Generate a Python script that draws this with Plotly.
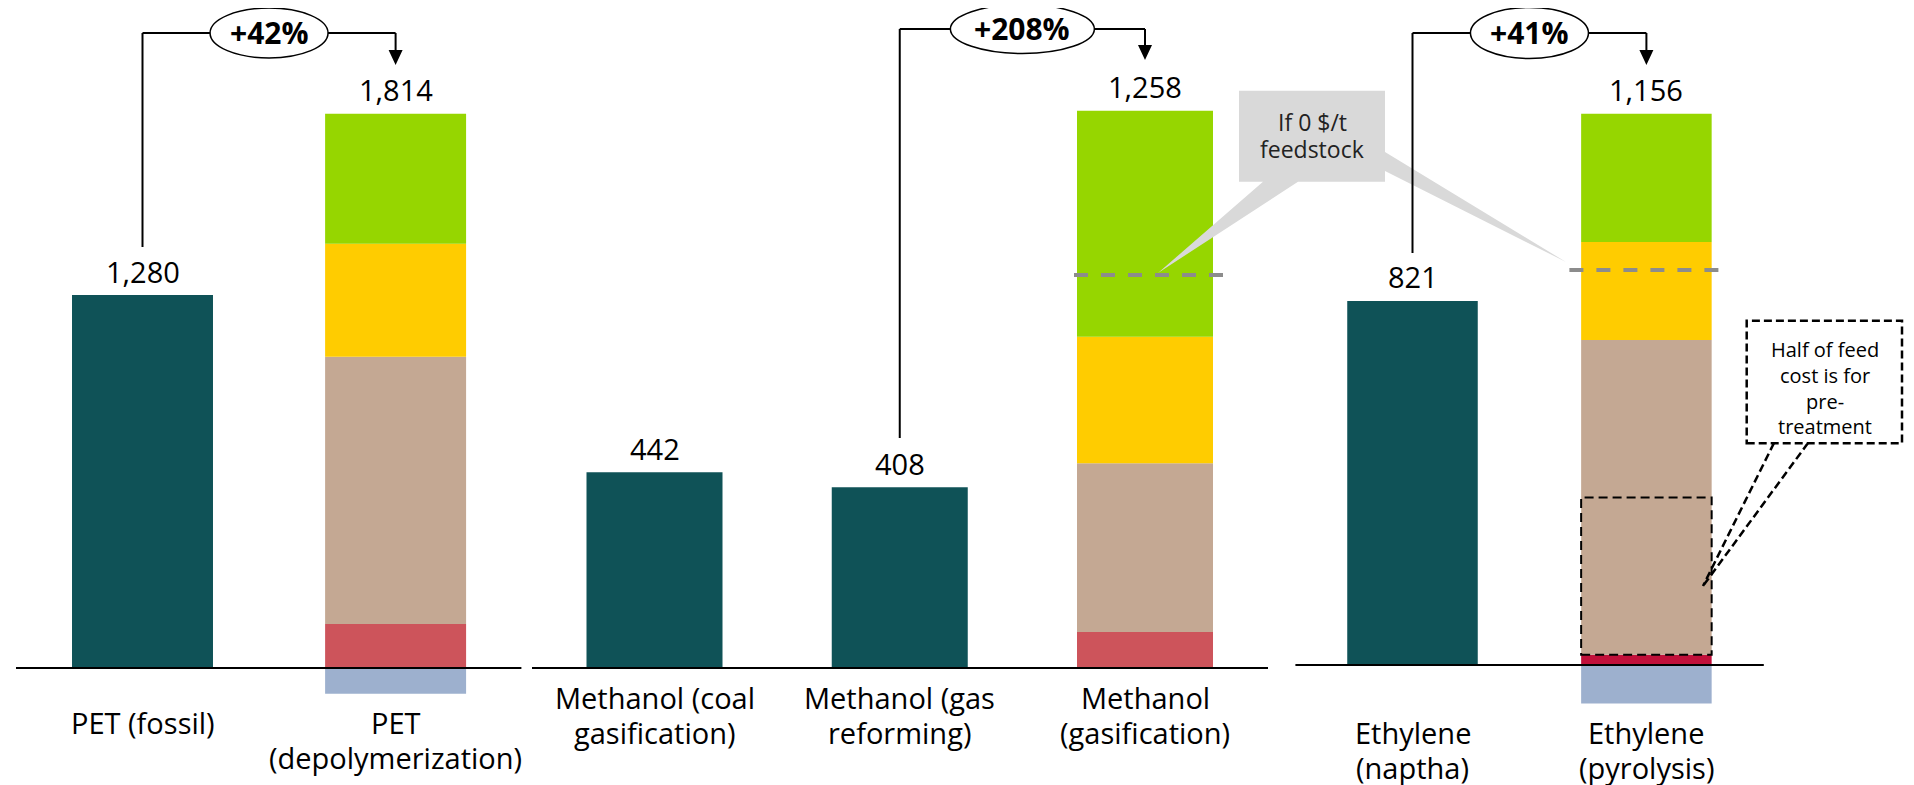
import plotly.graph_objects as go

W, H = 1914, 785
OFF = 8  # the page body margin shifts the figure by this many pixels

# categories (line breaks as in the picture)
pet_cats = ["PET (fossil)", "PET<br>(depolymerization)"]
methanol_cats = ["Methanol (coal<br>gasification)", "Methanol (gas<br>reforming)", "Methanol<br>(gasification)"]
ethylene_cats = ["Ethylene<br>(naptha)", "Ethylene<br>(pyrolysis)"]

# cost values, $/t
pet_fossil = [1280, None]
pet_red = [None, 151]
pet_tan = [None, 917]
pet_yellow = [None, 388]
pet_green = [None, 446]
pet_blue = [None, -88]

methanol_fossil = [442, 408, None]
methanol_red = [None, None, 81]
methanol_tan = [None, None, 381]
methanol_yellow = [None, None, 286]
methanol_green = [None, None, 510]
methanol_blue = [None, None, None]

ethylene_fossil = [821, None]
ethylene_red = [None, 23]
ethylene_tan = [None, 710]
ethylene_yellow = [None, 221]
ethylene_green = [None, 289]
ethylene_blue = [None, -87]

# "If 0 $/t feedstock" levels
zero_feed_methanol = 887
zero_feed_ethylene = 891

# which bars the % arrows compare (from, to)
compare_pairs = [(0, 1), (1, 2), (0, 1)]

TEAL = "#0F5257"
GREEN = "#96D600"
YELLOW = "#FFCC00"
TAN = "#C4A893"
BLUE = "#9DB0CE"
FONT = "Open Sans"


def px_x(p):
    return (p - OFF) / W


def px_y(p):
    return 1 - (p - OFF) / H


def x_range(dom, first_center, step):
    return [(dom[0] - first_center) / step, (dom[1] - first_center) / step]


def y_range(base, scale):
    b = base - OFF
    return [-(H - b) / scale, b / scale]


panels = [
    dict(cats=pet_cats, fossil=pet_fossil, red=pet_red, tan=pet_tan, yellow=pet_yellow,
         green=pet_green, blue=pet_blue, red_color="#CD545B",
         dom=(OFF, 526), c0=142.5, step=253.1, width=0.557, base=668, scale=0.2914,
         axis_line=(16, 521.4), label_y=[722, 757],
         top=33, start=247, tip=65, ell_w=118, ell_h=50),
    dict(cats=methanol_cats, fossil=methanol_fossil, red=methanol_red, tan=methanol_tan,
         yellow=methanol_yellow, green=methanol_green, blue=methanol_blue, red_color="#CD545B",
         dom=(526, 1280), c0=654.5, step=245.25, width=0.5545, base=668, scale=0.443,
         axis_line=(532, 1268), label_y=[697, 732],
         top=29, start=438, tip=60, ell_w=144, ell_h=49),
    dict(cats=ethylene_cats, fossil=ethylene_fossil, red=ethylene_red, tan=ethylene_tan,
         yellow=ethylene_yellow, green=ethylene_green, blue=ethylene_blue, red_color="#C0103A",
         dom=(1280, W + OFF), c0=1412.5, step=233.9, width=0.558, base=665, scale=0.4434,
         axis_line=(1295.4, 1763.8), label_y=[732, 767],
         top=33, start=253, tip=65, ell_w=118, ell_h=51),
]

fig = go.Figure()
shapes = []
annotations = []
layout_axes = {}

# gray "If 0 $/t feedstock" callout (drawn first so brackets sit on top)
callout_pts = [(1239, 90.7), (1385, 90.7), (1385, 152), (1566, 262), (1385, 171),
               (1385, 181.7), (1298, 181.7), (1158, 273), (1263, 181.7), (1239, 181.7)]
path = "M" + " L".join(f"{px_x(a):.5f},{px_y(b):.5f}" for a, b in callout_pts) + " Z"
shapes.append(dict(type="path", path=path, xref="paper", yref="paper",
                   fillcolor="#D9D9D9", line=dict(width=0)))
for txt, yy in [("If 0 $/t", 121.7), ("feedstock", 149.3)]:
    annotations.append(dict(text=txt, x=px_x(1312), y=px_y(yy), xref="paper", yref="paper",
                            showarrow=False, font=dict(size=23, color="#222222"),
                            xanchor="center", yanchor="middle"))

for i, p in enumerate(panels):
    sfx = "" if i == 0 else str(i + 1)
    xa, ya = "x" + sfx, "y" + sfx
    cats = p["cats"]

    layout_axes["xaxis" + sfx] = dict(domain=[px_x(p["dom"][0]), px_x(p["dom"][1])],
                                      range=x_range(p["dom"], p["c0"], p["step"]),
                                      anchor=ya, visible=False, type="category",
                                      categoryorder="array", categoryarray=cats)
    layout_axes["yaxis" + sfx] = dict(domain=[0, 1], range=y_range(p["base"], p["scale"]),
                                      anchor=xa, visible=False)

    series = [(p["fossil"], TEAL), (p["red"], p["red_color"]), (p["tan"], TAN),
              (p["yellow"], YELLOW), (p["green"], GREEN), (p["blue"], BLUE)]
    for vals, color in series:
        if all(v is None for v in vals):
            continue
        fig.add_trace(go.Bar(x=cats, y=vals, width=p["width"], marker_color=color,
                             marker_line_width=0, xaxis=xa, yaxis=ya, showlegend=False))

    # totals above each bar, category labels below
    totals = []
    for j, cat in enumerate(cats):
        vals = [s[0][j] for s in series if s[0][j] is not None]
        pos = sum(v for v in vals if v > 0)
        total = sum(vals)
        totals.append(total)
        annotations.append(dict(text=f"{total:,}", x=cat, y=pos, xref=xa, yref=ya,
                                showarrow=False, xanchor="center", yanchor="middle",
                                yshift=24, font=dict(size=29)))
        for k, line in enumerate(cat.split("<br>")):
            annotations.append(dict(text=line, x=cat, y=px_y(p["label_y"][k]), xref=xa,
                                    yref="paper", showarrow=False, xanchor="center",
                                    yanchor="middle", font=dict(size=29)))

    # baseline
    shapes.append(dict(type="line", xref="paper", yref=ya, x0=px_x(p["axis_line"][0]),
                       x1=px_x(p["axis_line"][1]), y0=0, y1=0,
                       line=dict(color="black", width=2)))

    # % change bracket
    a, b = compare_pairs[i]
    pct = round((totals[b] / totals[a] - 1) * 100)
    blk = dict(color="black", width=2)
    shapes.append(dict(type="line", xref=xa, yref="paper", x0=a, x1=a,
                       y0=px_y(p["start"]), y1=px_y(p["top"]), line=blk))
    shapes.append(dict(type="line", xref=xa, yref="paper", x0=a, x1=b,
                       y0=px_y(p["top"]), y1=px_y(p["top"]), line=blk))
    shapes.append(dict(type="line", xref=xa, yref="paper", x0=b, x1=b,
                       y0=px_y(p["top"]), y1=px_y(p["tip"] - 14), line=blk))
    shapes.append(dict(type="path", xref=xa, yref="paper", xsizemode="pixel",
                       ysizemode="pixel", xanchor=b, yanchor=px_y(p["tip"]),
                       path="M-7,15 L7,15 L0,0 Z", fillcolor="black", line=dict(width=0)))
    shapes.append(dict(type="circle", xref=xa, yref="paper", xsizemode="pixel",
                       xanchor=(a + b) / 2, x0=-p["ell_w"] / 2, x1=p["ell_w"] / 2,
                       y0=px_y(p["top"] + p["ell_h"] / 2), y1=px_y(p["top"] - p["ell_h"] / 2),
                       fillcolor="white", line=dict(color="black", width=1.5)))
    annotations.append(dict(text=f"<b>+{pct}%</b>", x=(a + b) / 2, y=px_y(p["top"]),
                            xref=xa, yref="paper", showarrow=False, xanchor="center",
                            yanchor="middle", font=dict(size=30)))

# zero-feedstock dashed levels
gray_dash = dict(color="#8C8C8C", width=4, dash="14px,13px")
shapes.append(dict(type="line", xref="x2", yref="y2", xsizemode="pixel", xanchor=2,
                   x0=-71, x1=85, y0=zero_feed_methanol, y1=zero_feed_methanol, line=gray_dash))
shapes.append(dict(type="line", xref="x3", yref="y3", xsizemode="pixel", xanchor=1,
                   x0=-77, x1=79, y0=zero_feed_ethylene, y1=zero_feed_ethylene, line=gray_dash))

# half of feed cost box on pyrolysis bar
half_lo = ethylene_red[1]
half_hi = ethylene_red[1] + ethylene_tan[1] / 2
w3 = panels[2]["width"]
shapes.append(dict(type="rect", xref="x3", yref="y3", x0=1 - w3 / 2, x1=1 + w3 / 2,
                   y0=half_lo, y1=half_hi,
                   line=dict(color="black", width=2, dash="9px,5px")))

# dashed note callout
note_dash = dict(color="black", width=2.5, dash="8px,4px")
for bx in (1774, 1808):
    shapes.append(dict(type="line", xref="paper", yref="paper", x0=px_x(bx), y0=px_y(443),
                       x1=px_x(1703), y1=px_y(586), line=note_dash))
shapes.append(dict(type="rect", xref="paper", yref="paper", x0=px_x(1746.7), x1=px_x(1902),
                   y0=px_y(443.3), y1=px_y(320.7), fillcolor="white", line=note_dash))
for txt, yy in [("Half of feed", 349), ("cost is for", 375), ("pre-", 401.7), ("treatment", 426)]:
    annotations.append(dict(text=txt, x=px_x(1825), y=px_y(yy), xref="paper", yref="paper",
                            showarrow=False, xanchor="center", yanchor="middle",
                            font=dict(size=20)))

fig.update_layout(
    width=W, height=H, margin=dict(l=0, r=0, t=0, b=0),
    paper_bgcolor="white", plot_bgcolor="white",
    barmode="relative", font=dict(family=FONT, color="black"),
    shapes=shapes, annotations=annotations, **layout_axes,
)

fig.write_html("out.html")
